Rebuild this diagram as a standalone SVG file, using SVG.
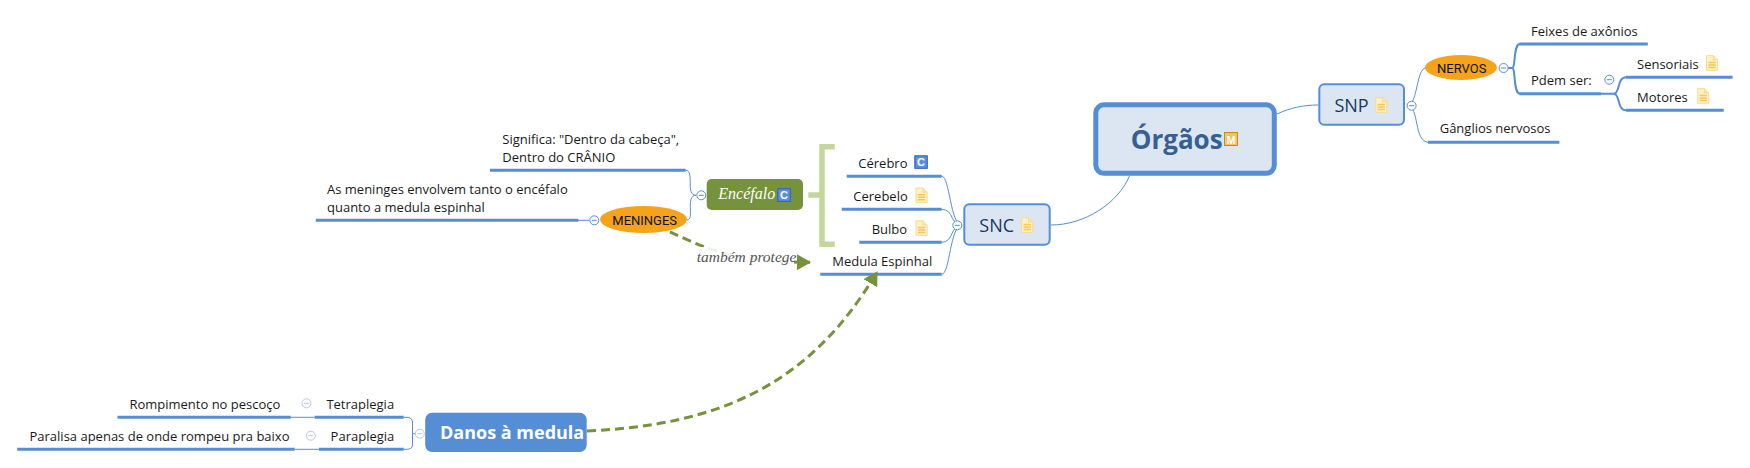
<svg xmlns="http://www.w3.org/2000/svg" xmlns:xlink="http://www.w3.org/1999/xlink" width="1750" height="468" viewBox="0 0 1750 468">
<style>
text{font-family:"Open Sans","Noto Sans",sans-serif;font-size:13px;fill:#1a1a1a}
.thin{fill:none;stroke:#558ed5;stroke-width:1}
.mid{fill:none;stroke:#558ed5;stroke-width:2}
.ul{fill:none;stroke:#558ed5;stroke-width:3}
.dash{fill:none;stroke:#76923c;stroke-width:3;stroke-dasharray:9 5}
.col{fill:#fff;stroke:#558ed5;stroke-width:1}
.colf{fill:#fff;stroke:#b7c8ea;stroke-width:1}
.colm{stroke:#558ed5;stroke-width:1}
.colmf{stroke:#b7c8ea;stroke-width:1}
.box{fill:#dce6f2;stroke:#558ed5}
.sub{font-size:18px;fill:#17375e}
.ell{fill:#f6a31c}
.ro{font-family:Roboto,"Liberation Sans",sans-serif;font-size:13px;fill:#111}
.it{font-family:"Liberation Serif",serif;font-style:italic}
.ic{font-family:"Liberation Sans",sans-serif;font-weight:700;font-size:11px;text-anchor:middle;fill:#fff}
</style>
<defs>
<g id="note"><path d="M0.7 0.7H7.5L11.8 5V15.3H0.7Z" fill="#fff2c4" stroke="#fad98a"/><path d="M7.5 0.7V5H11.8" fill="#fce7a8" stroke="#fad98a"/><path d="M2.5 7.5H10M2.5 10H10M2.5 12.5H10" stroke="#f6c65a" stroke-width="1.4"/></g>
<marker id="arr" viewBox="0 0 14 16" refX="13" refY="8" markerWidth="14" markerHeight="16" markerUnits="userSpaceOnUse" orient="auto"><path d="M0 0L14 8L0 16Z" fill="#76923c"/></marker>
</defs>
<rect width="1750" height="468" fill="#fff"/>
<g id="connectors">
<path class="thin" d="M1277 114C1290 108 1303 105 1318 105"/>
<path class="thin" d="M1129.500 176C1118 203 1085 225 1051 225"/>
<path class="thin" d="M1407 105.700C1418 105.700 1416 68 1426 68"/>
<path class="thin" d="M1407 105.700C1420 105.700 1413 142.300 1429 142.300"/>
<path class="mid" d="M1508 68H1512C1516 68 1513 44 1520 44"/>
<path class="mid" d="M1512 68C1516 68 1513 93.700 1520 93.700"/>
<path class="mid" d="M1601 93.700H1614C1620 93.700 1617 77.300 1626 77.300"/>
<path class="mid" d="M1614 93.700C1620 93.700 1617 110.300 1626 110.300"/>
<path class="thin" d="M962 225C950 225 950 176.300 941.700 176.300"/>
<path class="thin" d="M962 225C950 225 954 209.300 941.700 209.300"/>
<path class="thin" d="M962 225C950 225 954 242.300 941.700 242.300"/>
<path class="thin" d="M962 225C950 225 950 274.300 941.700 274.300"/>
<path class="thin" d="M696 195.300C685 195.300 695 170.300 685.700 170.300"/>
<path class="thin" d="M696 195.300C685 195.300 695 220 687 220"/>
<path class="thin" d="M578 220.300H589"/>
<path class="thin" d="M415 433.700H412.500V422C412.500 419 410 417.300 407 417.300H403.700"/>
<path class="thin" d="M412.500 433.700V445C412.500 448 410 449.300 407 449.300H403.700"/>
<path class="thin" d="M290.800 417.300H314.600"/>
<path class="thin" d="M294.700 449.300H318.800"/>
<path class="ul" d="M1519.600 44H1647.800M1519.600 93.700H1601M1626 77.300H1732.600M1626 110.300H1723.700M1428 142.300H1559.400"/>
<path class="ul" d="M846.700 176.300H941.700M841.700 209.300H941.700M859.300 242.300H941.700M820.300 274.300H941.700"/>
<path class="ul" d="M490 170.300H685.700M315.700 220.300H578.300"/>
<path class="ul" d="M117.500 417.300H290.800M314.600 417.300H403.700M17.200 449.300H294.700M318.800 449.300H403.700"/>
<path class="dash" d="M670 232C700 245 725 262 810 262.300" marker-end="url(#arr)"/>
<path class="dash" d="M587 431C720 425 810 385 877 272" marker-end="url(#arr)"/>
<path d="M808.300 195H822M834.700 146.700H822V244.300H834.700" fill="none" stroke="#c3d69b" stroke-width="5.500"/>
</g>
<rect x="694" y="247" width="100" height="19" fill="#fff" fill-opacity="0.88"/>
<text class="it" x="696.700" y="261.700" font-size="15.500" style="font-size:15.500px;fill:#555">também protege</text>
<g id="n-orgaos"><rect class="box" x="1095.800" y="104.800" width="178.500" height="68.500" rx="8" stroke-width="5"/><text x="1130.700" y="149" style="font-size:26px;font-weight:700;fill:#366092">Órgãos</text><rect x="1224.500" y="132.500" width="13" height="13" fill="#f3c261" stroke="#c98a22"/><text class="ic" x="1231" y="143.500">M</text></g>
<g id="n-snp"><rect class="box" x="1319.300" y="84.300" width="84.700" height="40.400" rx="5" stroke-width="2"/><text class="sub" x="1334.400" y="112">SNP</text><use href="#note" x="1375" y="97"/><circle class="col" cx="1411.600" cy="105.700" r="4.500"/><path class="colm" d="M1409 105.700h5"/></g>
<g id="n-nervos"><ellipse class="ell" cx="1461" cy="67.500" rx="36" ry="12.500"/><text class="ro" x="1437" y="73">NERVOS</text><circle class="col" cx="1503.600" cy="68" r="4.500"/><path class="colm" d="M1501 68h5"/></g>
<g id="n-feixes"><text x="1531" y="36">Feixes de axônios</text></g>
<g id="n-pdem"><text x="1531" y="85">Pdem ser:</text><circle class="col" cx="1609.300" cy="79.700" r="4.500"/><path class="colm" d="M1606.800 79.700h5"/></g>
<g id="n-sens"><text x="1637" y="69">Sensoriais</text><use href="#note" x="1705.800" y="55"/></g>
<g id="n-mot"><text x="1637" y="102">Motores</text><use href="#note" x="1697" y="88"/></g>
<g id="n-gang"><text x="1439.700" y="133">Gânglios nervosos</text></g>
<g id="n-snc"><rect class="box" x="964.300" y="204.300" width="85.400" height="40.400" rx="5" stroke-width="2"/><text class="sub" x="979.300" y="232.300">SNC</text><use href="#note" x="1021" y="217"/><circle class="col" cx="957.300" cy="225.300" r="4.500"/><path class="colm" d="M954.800 225.300h5"/></g>
<g id="n-cerebro"><text x="858.300" y="167.700">Cérebro</text><rect x="914.800" y="155.800" width="12.500" height="12.500" fill="#5a8fe6" stroke="#2a5cc4"/><text class="ic" x="921" y="166">C</text></g>
<g id="n-cerebelo"><text x="853.300" y="201">Cerebelo</text><use href="#note" x="915.300" y="187.300"/></g>
<g id="n-bulbo"><text x="871.700" y="234">Bulbo</text><use href="#note" x="915.300" y="220"/></g>
<g id="n-medula"><text x="832.300" y="266">Medula Espinhal</text></g>
<g id="n-encefalo"><rect x="706.700" y="179" width="96.300" height="31" rx="5" fill="#76923c"/><text class="it" x="718.300" y="199.300" style="font-size:16px;fill:#fff">Encéfalo</text><rect x="777.800" y="188.800" width="12.500" height="12.500" fill="#5a8fe6" stroke="#2a5cc4"/><text class="ic" x="784" y="199">C</text><circle class="col" cx="701.300" cy="195.300" r="4.500"/><path class="colm" d="M698.800 195.300h5"/></g>
<g id="n-significa"><text x="502.300" y="144.300">Significa: "Dentro da cabeça",</text><text x="502.300" y="162.300">Dentro do CRÂNIO</text></g>
<g id="n-meninges"><ellipse class="ell" cx="643.500" cy="219.500" rx="43.500" ry="13.500"/><text class="ro" x="612.300" y="225">MENINGES</text><circle class="col" cx="594.300" cy="220.300" r="4.500"/><path class="colm" d="M591.800 220.300h5"/></g>
<g id="n-as"><text x="327" y="194.300">As meninges envolvem tanto o encéfalo</text><text x="327" y="212.300">quanto a medula espinhal</text></g>
<g id="n-danos"><rect x="425.200" y="412.700" width="161.500" height="39.300" rx="7" fill="#558ed5"/><text x="440" y="439.300" style="font-size:18px;font-weight:700;fill:#fff">Danos à medula</text><circle class="colf" cx="419.800" cy="433.700" r="4.500"/><path class="colmf" d="M417.300 433.700h5"/></g>
<g id="n-tetra"><text x="326.400" y="409.300">Tetraplegia</text><circle class="colf" cx="306.500" cy="403.300" r="4.500"/><path class="colmf" d="M304 403.300h5"/></g>
<g id="n-romp"><text x="129.400" y="409.300">Rompimento no pescoço</text></g>
<g id="n-para"><text x="330.600" y="441">Paraplegia</text><circle class="colf" cx="310.800" cy="435.700" r="4.500"/><path class="colmf" d="M308.300 435.700h5"/></g>
<g id="n-paralisa"><text x="29.500" y="441">Paralisa apenas de onde rompeu pra baixo</text></g>
</svg>
